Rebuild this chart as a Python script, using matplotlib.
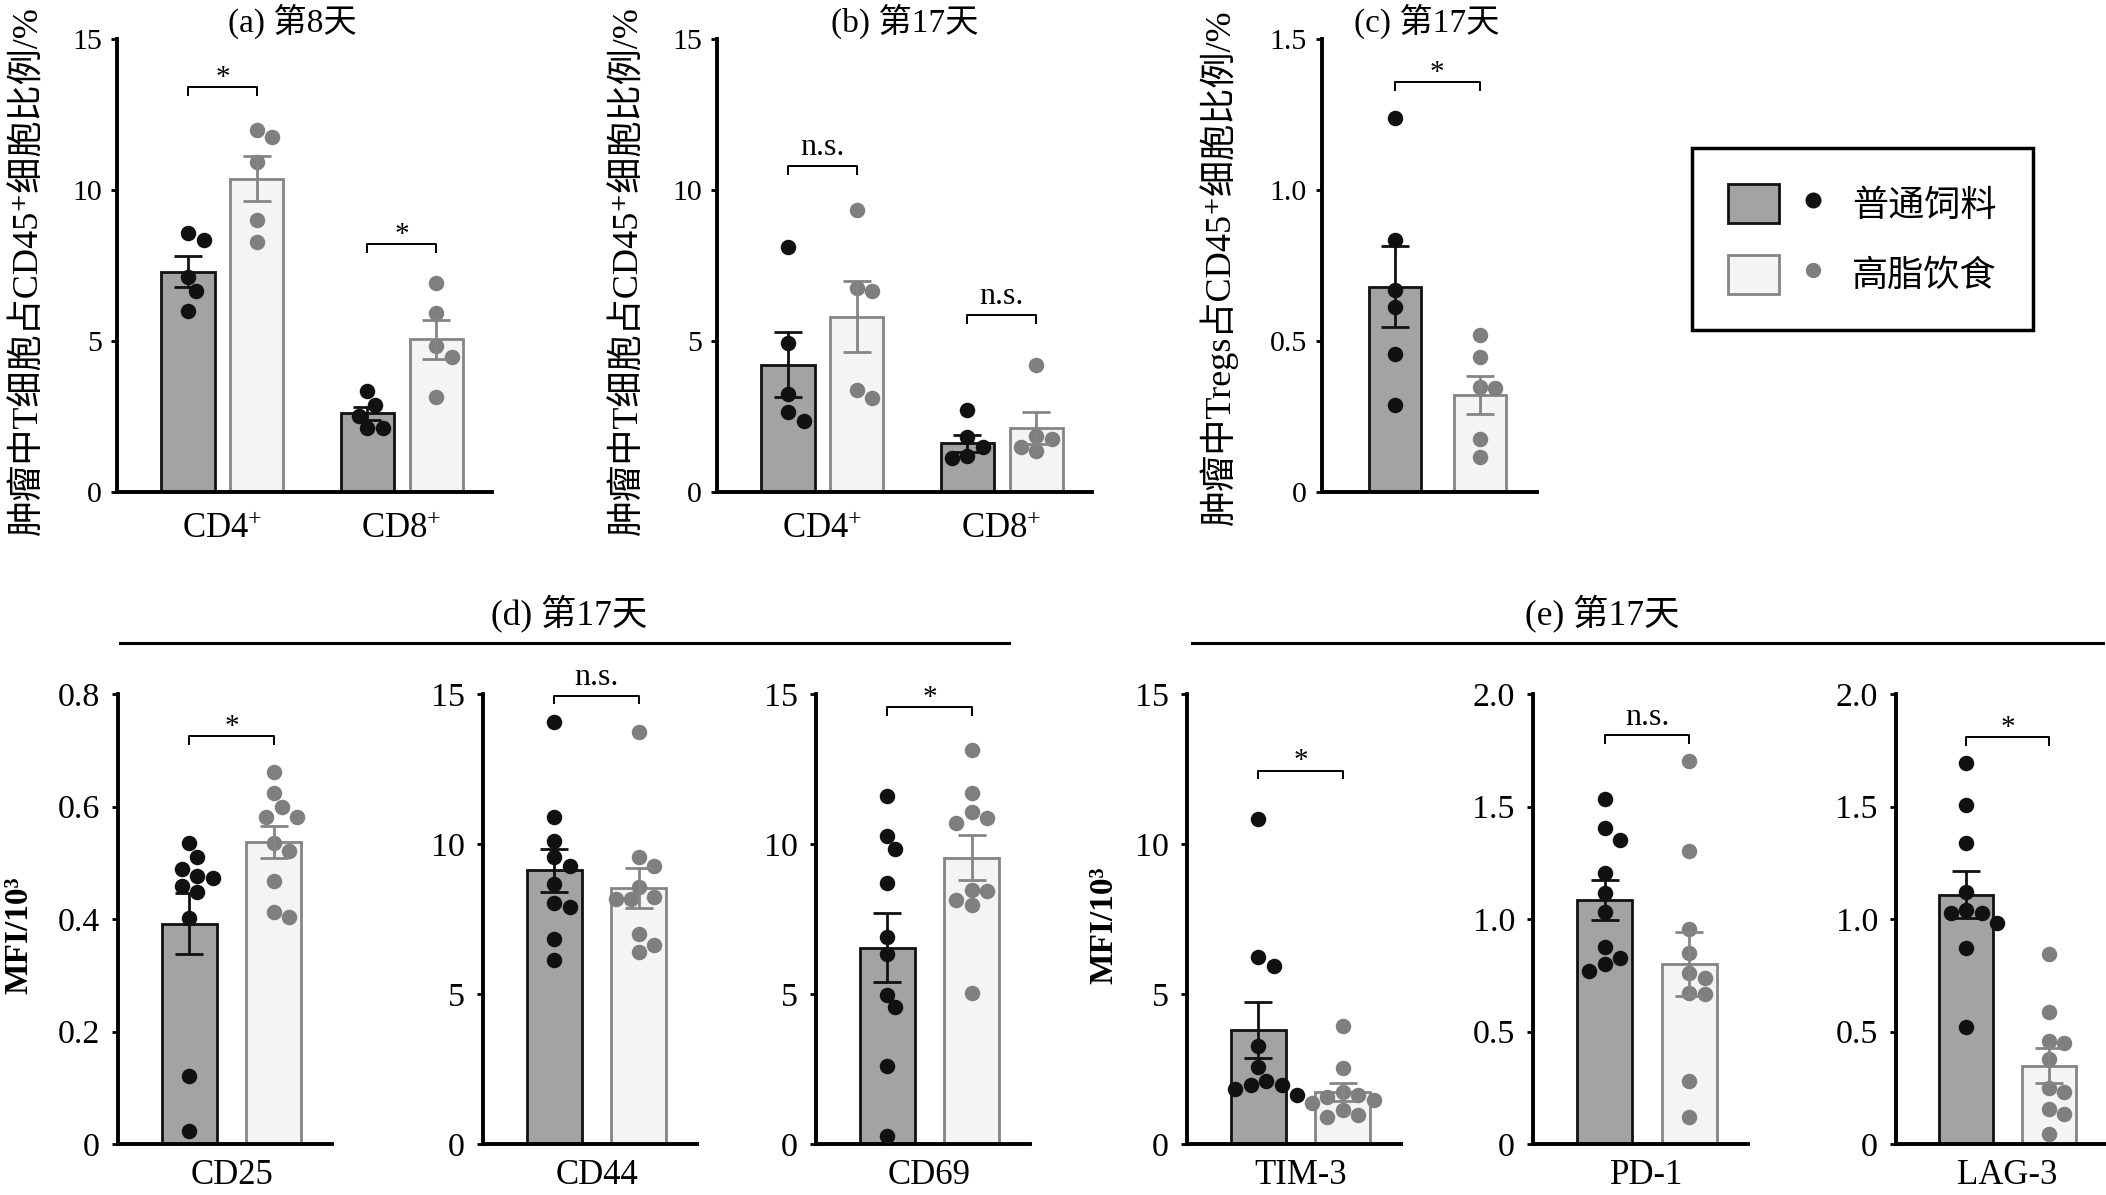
import numpy as np
import matplotlib
matplotlib.use('Agg')
import matplotlib.pyplot as plt
from matplotlib.lines import Line2D
from matplotlib.patches import Patch
from matplotlib.legend_handler import HandlerTuple

plt.rcParams['font.family'] = ['Liberation Serif', 'Noto Sans CJK SC', 'DejaVu Sans']
plt.rcParams['mathtext.fontset'] = 'custom'
plt.rcParams['mathtext.rm'] = 'Liberation Serif'
plt.rcParams['mathtext.it'] = 'Liberation Serif:italic'
plt.rcParams['mathtext.bf'] = 'Liberation Serif:bold'

# ---- data ----
groups = ['普通饲料', '高脂饮食']

# (a) day 8, T cells in CD45+ (%)
a_cats = ['CD4$^{+}$', 'CD8$^{+}$']
a_normal_mean = [7.30, 2.60]
a_normal_sem = [0.50, 0.23]
a_hfd_mean = [10.38, 5.05]
a_hfd_sem = [0.73, 0.64]
a_normal_pts = [[8.57, 8.34, 7.11, 6.65, 5.99], [3.33, 2.88, 2.53, 2.11, 2.11]]
a_hfd_pts = [[11.99, 11.76, 10.92, 9.02, 8.28], [6.91, 5.94, 4.84, 4.46, 3.14]]
a_sig = ['*', '*']
a_sig_y = [13.4, 8.2]

# (b) day 17
b_cats = ['CD4$^{+}$', 'CD8$^{+}$']
b_normal_mean = [4.22, 1.61]
b_normal_sem = [1.07, 0.29]
b_hfd_mean = [5.81, 2.11]
b_hfd_sem = [1.18, 0.53]
b_normal_pts = [[8.10, 4.93, 3.24, 2.64, 2.35], [2.70, 1.81, 1.49, 1.20, 1.13]]
b_hfd_pts = [[9.34, 6.74, 6.65, 3.38, 3.12], [4.21, 1.87, 1.76, 1.48, 1.36]]
b_sig = ['n.s.', 'n.s.']
b_sig_y = [10.8, 5.87]

# (c) day 17, Tregs
c_normal_mean = 0.68
c_normal_sem = 0.133
c_hfd_mean = 0.321
c_hfd_sem = 0.062
c_normal_pts = [1.238, 0.833, 0.668, 0.611, 0.458, 0.289]
c_hfd_pts = [0.519, 0.448, 0.349, 0.343, 0.176, 0.117]
c_sig = '*'
c_sig_y = 1.358

# (d)/(e) day 17, MFI/10^3
bot_markers = ['CD25', 'CD44', 'CD69', 'TIM-3', 'PD-1', 'LAG-3']
bot_ymax = [0.8, 15, 15, 15, 2.0, 2.0]
bot_normal_mean = [0.392, 9.12, 6.55, 3.80, 1.085, 1.108]
bot_normal_sem = [0.054, 0.72, 1.14, 0.93, 0.089, 0.105]
bot_hfd_mean = [0.537, 8.54, 9.55, 1.72, 0.80, 0.348]
bot_hfd_sem = [0.028, 0.66, 0.75, 0.30, 0.143, 0.078]
bot_normal_pts = [
    [0.535, 0.510, 0.489, 0.476, 0.473, 0.459, 0.448, 0.402, 0.121, 0.024],
    [14.06, 10.9, 10.1, 9.57, 9.27, 8.67, 8.03, 7.9, 6.83, 6.13],
    [11.61, 10.28, 9.85, 8.70, 6.89, 6.33, 4.98, 4.57, 2.61, 0.26],
    [10.83, 6.23, 5.93, 3.27, 2.57, 2.10, 1.97, 1.97, 1.83, 1.63],
    [1.533, 1.404, 1.351, 1.204, 1.116, 1.031, 0.876, 0.827, 0.800, 0.769],
    [1.693, 1.507, 1.338, 1.120, 1.040, 1.027, 1.027, 0.982, 0.871, 0.520],
]
bot_hfd_pts = [
    [0.661, 0.624, 0.600, 0.582, 0.581, 0.535, 0.521, 0.468, 0.412, 0.404],
    [13.72, 9.57, 9.27, 8.57, 8.23, 8.17, 8.17, 7.0, 6.63, 6.4],
    [13.15, 11.70, 11.06, 10.87, 10.70, 8.48, 8.44, 8.15, 7.98, 5.02],
    [3.93, 2.53, 1.73, 1.63, 1.57, 1.47, 1.37, 1.13, 0.97, 0.90],
    [1.701, 1.302, 0.956, 0.849, 0.760, 0.738, 0.671, 0.667, 0.280, 0.120],
    [0.844, 0.587, 0.458, 0.449, 0.378, 0.249, 0.231, 0.156, 0.133, 0.044],
]
bot_sig = ['*', 'n.s.', '*', '*', 'n.s.', '*']
bot_sig_y = [0.726, 14.95, 14.57, 12.45, 1.818, 1.807]

# ---- style ----
NORMAL_FILL, NORMAL_EDGE, NORMAL_DOT = '#a3a3a3', '#111111', '#111111'
HFD_FILL, HFD_EDGE, HFD_DOT = '#f4f4f4', '#858585', '#7f7f7f'
DOT_PX = 15.5

W, H = 2106, 1195
fig = plt.figure(figsize=(W / 100, H / 100), dpi=100)


def add_axes_px(x0, x1, ytop, ybot):
    return fig.add_axes([x0 / W, 1 - ybot / H, (x1 - x0) / W, (ybot - ytop) / H])


def fmt_tick(v, step):
    if v == 0:
        return '0'
    return f'{v:.1f}' if step < 1 else f'{v:.0f}'


def style_axes(ax, ymax, step, ysize, xsize, xpad, ypad):
    for s in ['top', 'right']:
        ax.spines[s].set_visible(False)
    for s in ['left', 'bottom']:
        ax.spines[s].set_linewidth(2.8)
    ax.set_ylim(0, ymax)
    ticks = np.arange(0, ymax + step / 2, step)
    ax.set_yticks(ticks)
    ax.set_yticklabels([fmt_tick(t, step) for t in ticks])
    ax.tick_params(axis='y', direction='out', length=4, width=2, labelsize=ysize, pad=ypad)
    ax.tick_params(axis='x', length=0, labelsize=xsize, pad=xpad)


def swarm(ax, x0, ys):
    # simple beeswarm in pixel space
    pts = ax.transData.transform(np.column_stack([np.full(len(ys), x0), ys]))
    out = np.zeros(len(ys))
    placed = []
    cands = [0]
    for k in range(1, 9):
        cands += [k * 0.5, -k * 0.5]
    for i in np.argsort(-np.asarray(ys)):
        px, py = pts[i]
        for c in cands:
            cx = px + c * DOT_PX
            if all(np.hypot(cx - qx, py - qy) >= 0.92 * DOT_PX for qx, qy in placed):
                break
        placed.append((cx, py))
        out[i] = ax.transData.inverted().transform((cx, py))[0]
    return out


def draw_bar(ax, x, mean, sem, pts, width, fill, edge, dot):
    ax.bar(x, mean, width, color=fill, edgecolor=edge, linewidth=2, zorder=2)
    xs = swarm(ax, x, pts)
    ax.scatter(xs, pts, s=(DOT_PX * 0.72) ** 2, color=dot, linewidths=0, zorder=3, clip_on=False)
    ax.errorbar(x, mean, yerr=sem, fmt='none', ecolor=edge, elinewidth=2,
                capsize=10, capthick=2, zorder=4)


def bracket(ax, x1, x2, y, label, ymax, size):
    h = ymax * 0.0177
    ax.plot([x1, x1, x2, x2], [y - h, y, y, y - h], color='black', lw=1.4,
            clip_on=False, zorder=5)
    off = 1.5 if label == '*' else 7.5
    ax.annotate(label, xy=((x1 + x2) / 2, y), xytext=(0, off), textcoords='offset points',
                ha='center', va='baseline', fontsize=size, annotation_clip=False)


# ---- top row ----
top_boxes = [(117, 492), (717, 1092)]
top_titles = ['(a) 第8天', '(b) 第17天']
title_x = [0.467, 0.501]
top_sets = [
    (a_cats, a_normal_mean, a_normal_sem, a_normal_pts, a_hfd_mean, a_hfd_sem, a_hfd_pts, a_sig, a_sig_y),
    (b_cats, b_normal_mean, b_normal_sem, b_normal_pts, b_hfd_mean, b_hfd_sem, b_hfd_pts, b_sig, b_sig_y),
]
centers = np.array([0, 2.6])
for (x0, x1), title, tx, data in zip(top_boxes, top_titles, title_x, top_sets):
    cats, nm, ns, npts, hm, hs, hpts, sig, sig_y = data
    ax = add_axes_px(x0, x1, 39, 492)
    ax.set_xlim(-1.53, 3.91)
    style_axes(ax, 15, 5, 21.5, 25, 15, 7)
    for g, c in enumerate(centers):
        draw_bar(ax, c - 0.5, nm[g], ns[g], npts[g], 0.77, NORMAL_FILL, NORMAL_EDGE, NORMAL_DOT)
        draw_bar(ax, c + 0.5, hm[g], hs[g], hpts[g], 0.77, HFD_FILL, HFD_EDGE, HFD_DOT)
        bracket(ax, c - 0.5, c + 0.5, sig_y[g], sig[g], 15, 21 if sig[g] == '*' else 23)
    ax.set_xticks(centers)
    ax.set_xticklabels(cats)
    ax.set_title(title, fontsize=24, x=tx, pad=4)

ax = add_axes_px(1322, 1537, 39, 492)
ax.set_xlim(-0.864, 1.68)
style_axes(ax, 1.5, 0.5, 21.5, 25, 15, 7)
draw_bar(ax, 0, c_normal_mean, c_normal_sem, c_normal_pts, 0.615, NORMAL_FILL, NORMAL_EDGE, NORMAL_DOT)
draw_bar(ax, 1, c_hfd_mean, c_hfd_sem, c_hfd_pts, 0.615, HFD_FILL, HFD_EDGE, HFD_DOT)
bracket(ax, 0, 1, c_sig_y, c_sig, 1.5, 21)
ax.set_xticks([])
ax.set_title('(c) 第17天', fontsize=24, x=0.488, pad=4)

ylab_kw = dict(rotation=90, ha='center', va='center', fontsize=26, fontweight='medium')
fig.text(29 / W, 1 - 271 / H, '肿瘤中T细胞占CD45⁺细胞比例/%', **ylab_kw)
fig.text(629 / W, 1 - 271 / H, '肿瘤中T细胞占CD45⁺细胞比例/%', **ylab_kw)
fig.text(1219 / W, 1 - 267 / H, '肿瘤中Tregs占CD45⁺细胞比例/%', **ylab_kw)

# ---- legend ----
h1 = (Patch(facecolor=NORMAL_FILL, edgecolor=NORMAL_EDGE, lw=2),
      Line2D([], [], ls='none', marker='o', color=NORMAL_DOT, markersize=10.5))
h2 = (Patch(facecolor=HFD_FILL, edgecolor=HFD_EDGE, lw=2),
      Line2D([], [], ls='none', marker='o', color=HFD_DOT, markersize=10))
leg = fig.legend([h1, h2], groups, handler_map={tuple: HandlerTuple(ndivide=None, pad=0.235)},
                 loc='upper left', bbox_to_anchor=(1692 / W, 1 - 148 / H),
                 bbox_transform=fig.transFigure, fontsize=26, handlelength=3.06,
                 handleheight=1.3, handletextpad=0.37, labelspacing=0.85, borderpad=1.0,
                 borderaxespad=0, frameon=True, fancybox=False, edgecolor='black', framealpha=1,
                 prop={'size': 26, 'weight': 'medium'})
leg.get_frame().set_linewidth(2.5)

# ---- bottom row ----
bot_boxes = [(118, 332), (483, 697), (816, 1030), (1187, 1401), (1533, 1748), (1896, 2106)]
for i, (x0, x1) in enumerate(bot_boxes):
    ymax = bot_ymax[i]
    step = ymax / 4 if ymax < 1 else (5 if ymax > 2 else 0.5)
    ax = add_axes_px(x0, x1, 694, 1144)
    ax.set_xlim(-0.845, 1.69)
    style_axes(ax, ymax, step, 24.5, 25, 11, 9)
    draw_bar(ax, 0, bot_normal_mean[i], bot_normal_sem[i], bot_normal_pts[i], 0.65,
             NORMAL_FILL, NORMAL_EDGE, NORMAL_DOT)
    draw_bar(ax, 1, bot_hfd_mean[i], bot_hfd_sem[i], bot_hfd_pts[i], 0.65,
             HFD_FILL, HFD_EDGE, HFD_DOT)
    bracket(ax, 0, 1, bot_sig_y[i], bot_sig[i], ymax, 21 if bot_sig[i] == '*' else 23)
    ax.set_xticks([0.5])
    ax.set_xticklabels([bot_markers[i]])

fig.text(19 / W, 1 - 935 / H, 'MFI/10³', rotation=90, ha='center', va='center',
         fontsize=24, fontweight='bold')
fig.text(1104 / W, 1 - 925 / H, 'MFI/10³', rotation=90, ha='center', va='center',
         fontsize=24, fontweight='bold')

# group headers for (d) and (e)
fig.text(569 / W, 1 - 613 / H, '(d) 第17天', ha='center', va='center', fontsize=25.5)
fig.text(1602 / W, 1 - 613 / H, '(e) 第17天', ha='center', va='center', fontsize=25.5)
fig.add_artist(Line2D([120 / W, 1009 / W], [1 - 643 / H] * 2, color='black', lw=2.2,
                      transform=fig.transFigure))
fig.add_artist(Line2D([1192 / W, 2103 / W], [1 - 643 / H] * 2, color='black', lw=2.2,
                      transform=fig.transFigure))

fig.savefig('out.png', dpi=100, facecolor='white')
